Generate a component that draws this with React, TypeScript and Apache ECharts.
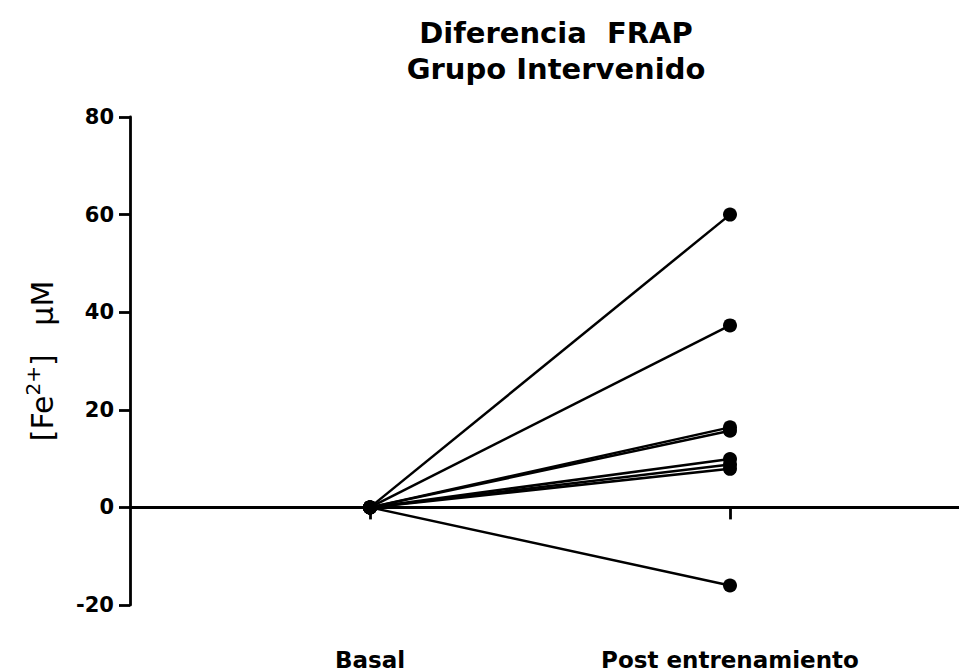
import React, { useEffect, useRef } from "react";
import * as echarts from "echarts";

const categories = ["Basal", "Post entrenamiento"];
const basalValues = [0, 0, 0, 0, 0, 0, 0, 0];
const postValues = [60, 37.3, 16.4, 15.7, 9.9, 8.8, 7.9, -16];
const yTicks = { min: -20, max: 80, interval: 20 };
const titleLines = ["Diferencia  FRAP", "Grupo Intervenido"];

const FONT = "'DejaVu Sans', 'Liberation Sans', Arial, sans-serif";

export default function App() {
  const ref = useRef<HTMLDivElement>(null);
  useEffect(() => {
    if (!ref.current) return;
    const chart = echarts.init(ref.current, null, { renderer: "svg" });
    const xMin = 1 - 240 / 360;
    const xMax = 2 + 229 / 360;
    const series = postValues.map((v, i) => ({
      type: "line",
      xAxisIndex: 0,
      yAxisIndex: 0,
      symbol: "circle",
      symbolSize: 14,
      z: 3,
      itemStyle: { color: "#000" },
      lineStyle: { color: "#000", width: 2.5 },
      data: [
        [1, basalValues[i]],
        [2, v],
      ],
    }));
    chart.setOption({
      animation: false,
      backgroundColor: "#fff",
      title: {
        text: titleLines.join("\n"),
        left: 551,
        top: 10,
        textAlign: "center",
        textStyle: {
          fontFamily: FONT,
          fontWeight: "bold",
          fontSize: 29,
          lineHeight: 36,
          color: "#000",
        },
      },
      grid: { left: 130, right: 0, top: 117, bottom: 66, containLabel: false },
      xAxis: [
        {
          type: "value",
          min: xMin,
          max: xMax,
          position: "bottom",
          splitLine: { show: false },
          axisLine: { show: true, onZero: true, lineStyle: { color: "#000", width: 2.8 } },
          axisTick: {
            show: true,
            customValues: [1, 2],
            length: 12,
            lineStyle: { color: "#000", width: 2.8 },
          },
          axisLabel: { show: false },
        },
        {
          type: "value",
          min: xMin,
          max: xMax,
          position: "bottom",
          splitLine: { show: false },
          axisLine: { show: false, onZero: false },
          axisTick: { show: false },
          axisLabel: {
            show: true,
            customValues: [1, 2],
            formatter: (v: number) => categories[Math.round(v) - 1] ?? "",
            margin: 43,
            fontFamily: FONT,
            fontWeight: "bold",
            fontSize: 23,
            color: "#000",
          },
        },
      ],
      yAxis: {
        type: "value",
        min: yTicks.min,
        max: yTicks.max,
        interval: yTicks.interval,
        splitLine: { show: false },
        axisLine: { show: true, onZero: false, lineStyle: { color: "#000", width: 2.8 } },
        axisTick: { show: true, length: 11, lineStyle: { color: "#000", width: 2.8 } },
        axisLabel: {
          margin: 16,
          fontFamily: FONT,
          fontWeight: "bold",
          fontSize: 21,
          color: "#000",
        },
        name: "[Fe{sup|2+}]   μM",
        nameLocation: "middle",
        nameGap: 69,
        nameRotate: 90,
        nameTextStyle: {
          fontFamily: FONT,
          fontSize: 30,
          color: "#000",
          lineHeight: 38,
          rich: {
            sup: {
              fontFamily: FONT,
              fontSize: 20,
              color: "#000",
              verticalAlign: "top",
              lineHeight: 14,
            },
          },
        },
      },
      series,
    });
    return () => chart.dispose();
  }, []);
  return (
    <div
      ref={ref}
      style={{ position: "absolute", left: 0, top: 0, width: 959, height: 671 }}
    />
  );
}
